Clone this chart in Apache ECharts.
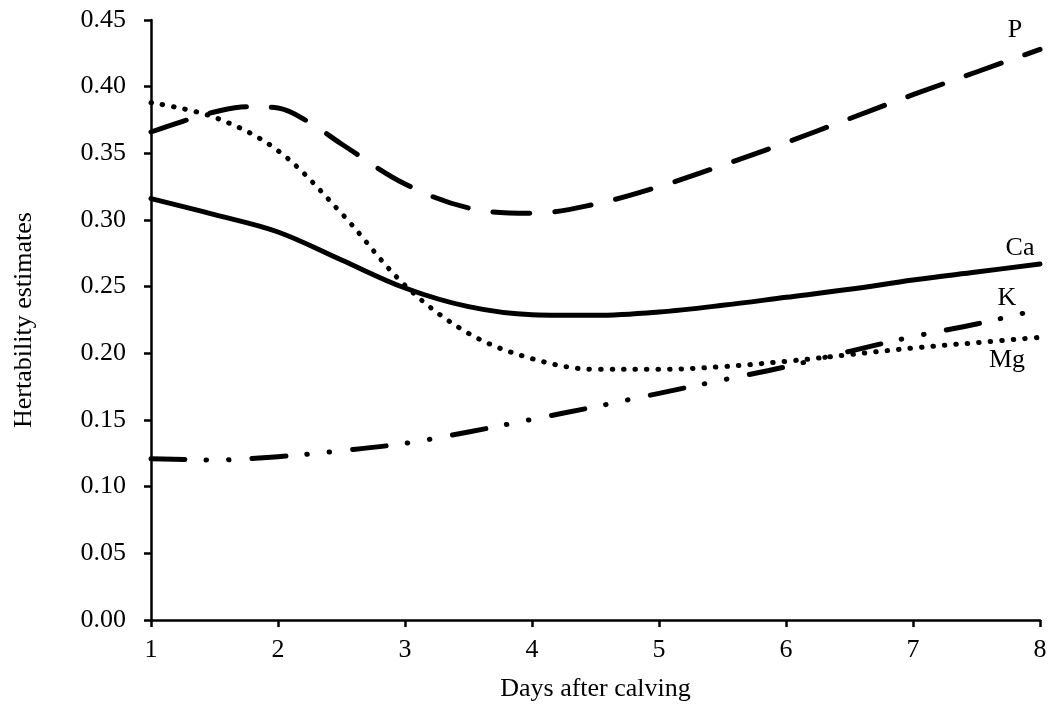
<!DOCTYPE html>
<html>
<head>
<meta charset="utf-8">
<script src="https://cdn.jsdelivr.net/npm/echarts@6/dist/echarts.min.js"></script>
<style>
  html, body { margin: 0; padding: 0; background: #fff; }
  #chart { width: 1054px; height: 710px; }
</style>
</head>
<body>
<div id="chart"></div>
<script>
// days after calving (x positions of the read-off points)
const days = [1, 1.5, 2, 2.5, 3, 3.5, 4, 4.5, 5, 5.5, 6, 6.5, 7, 7.5, 8]
// P has a sharper hump early on, so it is read more densely there
const pDays = [1, 1.25, 1.5, 1.75, 2, 2.25, 2.5, 3, 3.5, 4, 4.5, 5, 5.5, 6, 6.5, 7, 7.5, 8]

// heritability estimates
const pValues  = [0.366, 0.374, 0.381, 0.385, 0.384, 0.373, 0.357, 0.327, 0.309, 0.305, 0.312, 0.325, 0.341, 0.358, 0.376, 0.394, 0.411, 0.428]
const caValues = [0.316, 0.304, 0.291, 0.270, 0.249, 0.235, 0.229, 0.2285, 0.231, 0.236, 0.242, 0.248, 0.255, 0.261, 0.267]
const kValues  = [0.121, 0.120, 0.1225, 0.127, 0.1325, 0.141, 0.1505, 0.160, 0.170, 0.180, 0.190, 0.2015, 0.2125, 0.222, 0.233]
const mgValues = [0.388, 0.377, 0.352, 0.305, 0.251, 0.215, 0.196, 0.188, 0.188, 0.190, 0.194, 0.199, 0.204, 0.208, 0.212]

const xTicks = [1, 2, 3, 4, 5, 6, 7, 8]
const yTicks = [0, 0.05, 0.10, 0.15, 0.20, 0.25, 0.30, 0.35, 0.40, 0.45]

const FONT = "'Liberation Serif', 'Times New Roman', serif"
const pairs = (xs, vals) => xs.map((d, i) => [d, vals[i]])

const chart = echarts.init(document.getElementById('chart'))

// 每条线的样式
const mkSeries = (name, xs, vals, dash, offset) => ({
  name,
  type: 'line',
  data: pairs(xs, vals),
  smooth: 0.35,
  showSymbol: false,
  symbol: 'none',
  lineStyle: { color: '#000', width: 5, type: dash, cap: 'round', join: 'round' },
  endLabel: {
    show: true,
    formatter: '{a}',
    color: '#000',
    fontFamily: FONT,
    fontSize: 26,
    align: 'center',
    verticalAlign: 'middle',
    distance: 0,
    offset
  }
})

const option = {
  animation: false,
  backgroundColor: '#fff',
  grid: { left: 151, right: 14, top: 20, bottom: 90 },
  xAxis: {
    type: 'value',
    min: xTicks[0],
    max: xTicks[xTicks.length - 1],
    interval: 1,
    name: 'Days after calving',
    nameLocation: 'middle',
    nameGap: 56,
    nameTextStyle: { color: '#000', fontFamily: FONT, fontSize: 26 },
    axisLine: { lineStyle: { color: '#000', width: 2.5 } },
    axisTick: { show: true, length: 7, lineStyle: { color: '#000', width: 2.5 } },
    axisLabel: { color: '#000', fontFamily: FONT, fontSize: 26, margin: 17 },
    splitLine: { show: false }
  },
  yAxis: {
    type: 'value',
    min: yTicks[0],
    max: yTicks[yTicks.length - 1],
    interval: 0.05,
    name: 'Hertability estimates',
    nameLocation: 'middle',
    nameGap: 114,
    nameRotate: 90,
    nameTextStyle: { color: '#000', fontFamily: FONT, fontSize: 26 },
    axisLine: { show: true, lineStyle: { color: '#000', width: 2.5 } },
    axisTick: { show: true, length: 7, lineStyle: { color: '#000', width: 2.5 } },
    axisLabel: {
      color: '#000', fontFamily: FONT, fontSize: 26, margin: 25,
      formatter: (v) => v.toFixed(2)
    },
    splitLine: { show: false }
  },
  series: [
    mkSeries('P', pDays, pValues, [37, 25], [-25, -19]),
    mkSeries('Ca', days, caValues, 'solid', [-20, -16]),
    mkSeries('K', days, kValues, [34, 21, 0.5, 22, 0.5, 23], [-33, -11]),
    mkSeries('Mg', days, mgValues, [0.5, 11], [-33, 23])
  ]
}

chart.setOption(option)
</script>
</body>
</html>
